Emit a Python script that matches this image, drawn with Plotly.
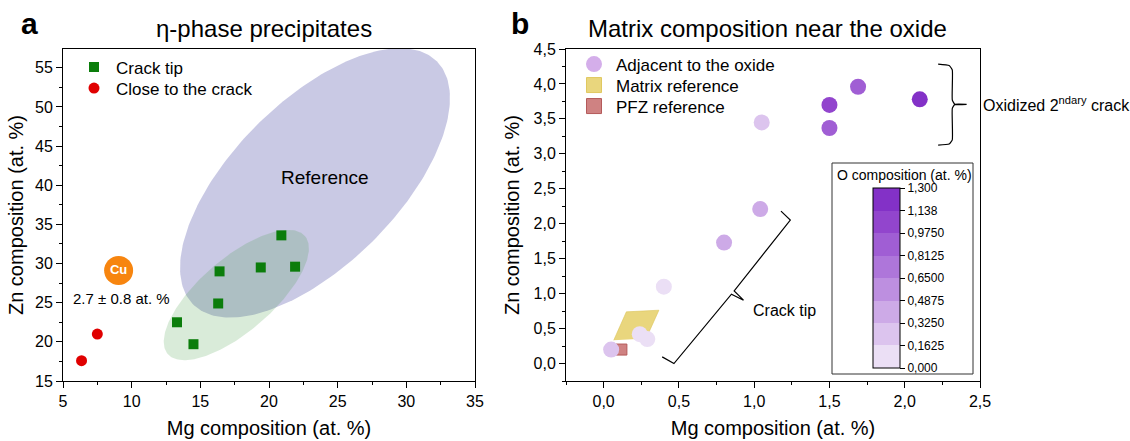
import numpy as np
import plotly.graph_objects as go

FONT = "Liberation Sans, Arial, sans-serif"
W, H = 1130, 441

# ---------------- Panel a data ----------------
tip_mg = [13.3, 14.5, 16.3, 16.4, 19.4, 20.9, 21.9]
tip_zn = [22.5, 19.7, 24.9, 29.0, 29.5, 33.6, 29.6]
close_mg = [6.35, 7.5]
close_zn = [17.6, 21.0]
cu_mg = [9.05]
cu_zn = [29.1]
cu_label = ["Cu"]
cu_note = "2.7 ± 0.8 at. %"
cu_note_pos = [9.26, 25.5]
reference_label_pos = [24.1, 41.0]

# ellipses: centre, major semi-axis vector, minor semi-axis vector (data units)
ref_center = [23.35, 40.3]
ref_major = [8.87, 15.53]
ref_minor = [-4.23, 7.40]
tip_center = [17.62, 25.98]
tip_major = [4.99, 7.54]
tip_minor = [-1.74, 3.53]

# ---------------- Panel b data ----------------
adj_mg = [0.05, 0.24, 0.29, 0.40, 0.80, 1.04, 1.05, 1.50, 1.50, 1.69, 2.10]
adj_zn = [0.20, 0.42, 0.35, 1.10, 1.73, 2.21, 3.45, 3.70, 3.37, 3.96, 3.78]
adj_o = [0.30, 0.10, 0.10, 0.12, 0.40, 0.40, 0.25, 1.05, 0.90, 0.90, 1.22]
matrix_mg = [0.067, 0.151, 0.367, 0.282]
matrix_zn = [0.333, 0.739, 0.763, 0.357]
pfz_mg = [0.118]
pfz_zn = [0.20]

crack_br_mg = [0.389, 0.467, 0.849, 0.929, 0.867, 1.240, 1.178]
crack_br_zn = [0.095, 0.0, 0.992, 0.906, 1.04, 2.052, 2.181]
crack_label_pos = [0.978, 0.753]
ox_br_mg = [2.222, 2.295, 2.316, 2.316, 2.333, 2.411, 2.333, 2.316, 2.316, 2.295, 2.222]
ox_br_zn = [4.285, 4.265, 4.20, 3.77, 3.708, 3.708, 3.708, 3.65, 3.20, 3.14, 3.125]
ox_label_zn = 3.708

o_levels = [0.0, 0.1625, 0.3250, 0.4875, 0.6500, 0.8125, 0.9750, 1.1375, 1.300]
o_ticktext = ["0,000", "0,1625", "0,3250", "0,4875", "0,6500", "0,8125", "0,9750", "1,138", "1,300"]
o_colors = ["#ebdff5", "#dcc4ee", "#cdaae7", "#bd8fe0", "#ae76da", "#a05ed4", "#9245cd", "#8331c7"]

# ---------------- helpers ----------------
def ellipse(center, major, minor, n=240):
    t = np.linspace(0, 2 * np.pi, n)
    x = center[0] + major[0] * np.cos(t) + minor[0] * np.sin(t)
    y = center[1] + major[1] * np.cos(t) + minor[1] * np.sin(t)
    return x, y

def px_x(p):
    return p / W

def px_y(p):
    return 1 - p / H

colorscale = []
nb = len(o_colors)
for i, c in enumerate(o_colors):
    colorscale.append([i / nb, c])
    colorscale.append([(i + 1) / nb, c])

fig = go.Figure()

# ---- panel a ----
ex, ey = ellipse(ref_center, ref_major, ref_minor)
fig.add_trace(go.Scatter(x=ex, y=ey, mode="lines", fill="toself", fillcolor="#c9c9e4",
                         line=dict(width=0), showlegend=False, hoverinfo="skip",
                         xaxis="x", yaxis="y"))
ex, ey = ellipse(tip_center, tip_major, tip_minor)
fig.add_trace(go.Scatter(x=ex, y=ey, mode="lines", fill="toself", fillcolor="rgba(65,155,65,0.2)",
                         line=dict(width=0), showlegend=False, hoverinfo="skip",
                         xaxis="x", yaxis="y"))
fig.add_trace(go.Scatter(x=tip_mg, y=tip_zn, mode="markers", name="Crack tip",
                         marker=dict(symbol="square", size=10, color="#0b7d0b"),
                         xaxis="x", yaxis="y", legend="legend"))
fig.add_trace(go.Scatter(x=close_mg, y=close_zn, mode="markers", name="Close to the crack",
                         marker=dict(symbol="circle", size=11, color="#e00000"),
                         xaxis="x", yaxis="y", legend="legend2"))
fig.add_trace(go.Scatter(x=cu_mg, y=cu_zn, mode="markers+text", text=cu_label,
                         textposition="middle center",
                         textfont=dict(family=FONT, size=13, color="white", weight="bold"),
                         marker=dict(size=29, color="#f7850f"), showlegend=False,
                         xaxis="x", yaxis="y"))

# ---- panel b ----
fig.add_trace(go.Scatter(x=matrix_mg, y=matrix_zn, mode="lines", fill="toself",
                         fillcolor="#e9d67d", line=dict(width=0.6, color="#dcc45c"),
                         showlegend=False, hoverinfo="skip", xaxis="x2", yaxis="y2"))
fig.add_trace(go.Scatter(x=pfz_mg, y=pfz_zn, mode="markers", showlegend=False,
                         marker=dict(symbol="square", size=11, color="#cf8282",
                                     line=dict(color="#b45a5a", width=1)),
                         xaxis="x2", yaxis="y2"))
fig.add_trace(go.Scatter(x=adj_mg, y=adj_zn, mode="markers", showlegend=False,
                         marker=dict(size=16, color=adj_o, coloraxis="coloraxis"),
                         xaxis="x2", yaxis="y2"))
fig.add_trace(go.Scatter(x=crack_br_mg, y=crack_br_zn, mode="lines",
                         line=dict(color="black", width=1.2), showlegend=False,
                         hoverinfo="skip", xaxis="x2", yaxis="y2"))
fig.add_trace(go.Scatter(x=ox_br_mg, y=ox_br_zn, mode="lines", line_shape="spline",
                         line=dict(color="black", width=1.2, smoothing=0.4), showlegend=False,
                         hoverinfo="skip", xaxis="x2", yaxis="y2"))

# legend entries for panel b
fig.add_trace(go.Scatter(x=[None], y=[None], mode="markers", name="Adjacent to the oxide",
                         marker=dict(symbol="circle", size=16, color="#d4aeea"),
                         xaxis="x2", yaxis="y2", legend="legend3"))
fig.add_trace(go.Scatter(x=[None], y=[None], mode="markers", name="Matrix reference",
                         marker=dict(symbol="square", size=15, color="#e9d67d",
                                     line=dict(color="#e0c860", width=1)),
                         xaxis="x2", yaxis="y2", legend="legend4"))
fig.add_trace(go.Scatter(x=[None], y=[None], mode="markers", name="PFZ reference",
                         marker=dict(symbol="square", size=15, color="#cf8282",
                                     line=dict(color="#b45a5a", width=1)),
                         xaxis="x2", yaxis="y2", legend="legend5"))

axis_common = dict(showline=True, linecolor="black", linewidth=1, mirror=True,
                   ticks="outside", ticklen=6, tickwidth=1, tickcolor="black",
                   showgrid=False, zeroline=False,
                   tickfont=dict(family=FONT, size=16, color="black"),
                   automargin=False)

def legend_at(x_px, y_top_px):
    return dict(x=px_x(x_px), y=px_y(y_top_px), xanchor="left", yanchor="top",
                bgcolor="rgba(0,0,0,0)", itemwidth=34, font=dict(family=FONT, size=17))

fig.update_layout(
    width=W, height=H,
    margin=dict(l=0, r=0, t=0, b=0),
    paper_bgcolor="white", plot_bgcolor="white",
    separators=", ",
    font=dict(family=FONT, color="black"),
    xaxis=dict(**axis_common, domain=[px_x(63), px_x(475)], range=[5, 35], tick0=5, dtick=5,
               minor=dict(dtick=2.5, ticklen=3, ticks="outside", tickcolor="black"),
               anchor="y",
               title=dict(text="Mg composition (at. %)", font=dict(size=20), standoff=11)),
    yaxis=dict(**axis_common, domain=[px_y(381), px_y(49)], range=[15, 57.4], tick0=15, dtick=5,
               minor=dict(dtick=2.5, ticklen=3, ticks="outside", tickcolor="black"),
               anchor="x",
               title=dict(text="Zn composition (at. %)", font=dict(size=20), standoff=6)),
    xaxis2=dict(**axis_common, domain=[px_x(566), px_x(980)], range=[-0.25, 2.5], tick0=0,
                dtick=0.5, tickformat=".1f",
                minor=dict(dtick=0.25, ticklen=3, ticks="outside", tickcolor="black"),
                anchor="y2",
                title=dict(text="Mg composition (at. %)", font=dict(size=20), standoff=11)),
    yaxis2=dict(**axis_common, domain=[px_y(381), px_y(49)], range=[-0.25, 4.5], tick0=0,
                dtick=0.5, tickformat=".1f",
                minor=dict(dtick=0.25, ticklen=3, ticks="outside", tickcolor="black"),
                anchor="x2",
                title=dict(text="Zn composition (at. %)", font=dict(size=20), standoff=8)),
    coloraxis=dict(
        colorscale=colorscale, cmin=o_levels[0], cmax=o_levels[-1],
        colorbar=dict(
            x=px_x(873), xanchor="left", xpad=0, xref="paper",
            y=px_y(278), yanchor="middle", ypad=0, yref="paper",
            lenmode="pixels", len=180, thickness=27,
            outlinewidth=1, outlinecolor="black",
            tickvals=o_levels, ticktext=o_ticktext,
            ticks="outside", ticklen=5, tickcolor="black",
            tickfont=dict(family=FONT, size=12, color="black"),
        ),
    ),
    legend=legend_at(72, 49.5),
    legend2=legend_at(72, 70.5),
    legend3=legend_at(572, 46.5),
    legend4=legend_at(572, 67.5),
    legend5=legend_at(572, 88.5),
    showlegend=True,
)

fig.add_shape(type="rect", xref="paper", yref="paper",
              x0=px_x(832), x1=px_x(973), y0=px_y(374), y1=px_y(163),
              line=dict(color="#333333", width=1), fillcolor="white", layer="below")

annotations = [
    dict(text="<b>a</b>", x=px_x(19), y=px_y(23), xref="paper", yref="paper",
         xanchor="left", yanchor="middle", font=dict(size=30)),
    dict(text="<b>b</b>", x=px_x(509), y=px_y(23), xref="paper", yref="paper",
         xanchor="left", yanchor="middle", font=dict(size=30)),
    dict(text="η-phase precipitates", x=px_x(264), y=px_y(28), xref="paper", yref="paper",
         xanchor="center", yanchor="middle", font=dict(size=24)),
    dict(text="Matrix composition near the oxide", x=px_x(586), y=px_y(28), xref="paper",
         yref="paper", xanchor="left", yanchor="middle", font=dict(size=24)),
    dict(text="Reference", x=reference_label_pos[0], y=reference_label_pos[1], xref="x", yref="y",
         font=dict(size=19)),
    dict(text=cu_note, x=cu_note_pos[0], y=cu_note_pos[1], xref="x", yref="y",
         font=dict(size=15)),
    dict(text="Crack tip", x=crack_label_pos[0], y=crack_label_pos[1], xref="x2", yref="y2",
         xanchor="left", font=dict(size=16)),
    dict(text="Oxidized 2<sup>ndary</sup> crack", x=px_x(981), y=ox_label_zn, xref="paper",
         yref="y2", xanchor="left", font=dict(size=16)),
    dict(text="O composition (at. %)", x=px_x(904), y=px_y(175), xref="paper", yref="paper",
         xanchor="center", yanchor="middle", font=dict(size=14)),
]
for a in annotations:
    a.setdefault("showarrow", False)
    fig.add_annotation(**a)

fig.write_html("out.html")
